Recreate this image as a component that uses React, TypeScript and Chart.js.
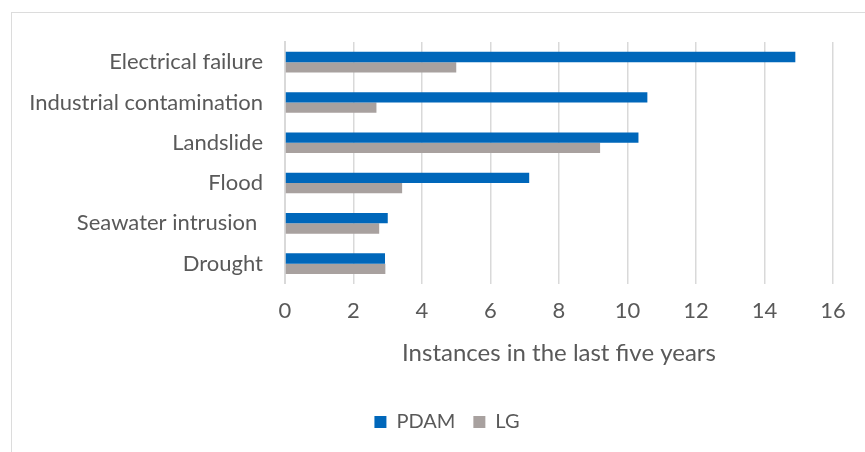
import React, { useEffect, useRef } from "react";
import { Chart, registerables } from "chart.js";

Chart.register(...registerables);

const categories = [
  "Electrical failure",
  "Industrial contamination",
  "Landslide",
  "Flood",
  "Seawater intrusion ",
  "Drought",
];
const pdamValues = [14.9, 10.58, 10.32, 7.13, 3.0, 2.92];
const lgValues = [5.0, 2.67, 9.2, 3.42, 2.75, 2.93];
const seriesNames = ["PDAM", "LG"];
const axisTitle = "Instances in the last five years";

const TEXT = "#595959";
const FONT = "Lato, 'Open Sans', sans-serif";

const legendShift = {
  id: "legendShift",
  afterLayout(chart: any) {
    if (chart.legend) chart.legend.left = 61;
  },
};

export default function App() {
  const ref = useRef<HTMLCanvasElement | null>(null);

  useEffect(() => {
    document.body.style.margin = "0";
    const ctx = ref.current!.getContext("2d")!;
    const chart = new Chart(ctx, {
      type: "bar",
      data: {
        labels: categories,
        datasets: [
          {
            label: seriesNames[0],
            data: pdamValues,
            backgroundColor: "#0067BA",
            borderWidth: 0,
          },
          {
            label: seriesNames[1],
            data: lgValues,
            backgroundColor: "#A8A19F",
            borderWidth: 0,
          },
        ],
      },
      options: {
        indexAxis: "y",
        animation: false,
        responsive: false,
        maintainAspectRatio: false,
        layout: { padding: { top: 42, right: 32, left: 0, bottom: 10 } },
        datasets: { bar: { barPercentage: 1, categoryPercentage: 0.51 } },
        scales: {
          y: {
            afterFit: (s: any) => {
              s.width = 285;
            },
            grid: { display: false, drawTicks: false },
            border: { display: true, color: "#d9d9d9", width: 2 },
            ticks: {
              padding: 22,
              color: TEXT,
              font: { family: FONT, size: 22 },
            },
          },
          x: {
            min: 0,
            max: 16,
            grid: { color: "#d9d9d9", lineWidth: 1.5, drawTicks: false },
            border: { display: false },
            ticks: {
              stepSize: 2,
              padding: 14,
              color: TEXT,
              font: { family: FONT, size: 22 },
            },
            title: {
              display: true,
              text: axisTitle,
              color: TEXT,
              font: { family: FONT, size: 24 },
              padding: { top: 1, bottom: 26 },
            },
          },
        },
        plugins: {
          tooltip: { enabled: false },
          legend: {
            position: "bottom",
            labels: {
              boxWidth: 12,
              boxHeight: 12,
              padding: 18,
              color: TEXT,
              font: { family: FONT, size: 20 },
            },
          },
        },
      },
      plugins: [legendShift],
    });
    return () => chart.destroy();
  }, []);

  return (
    <div style={{ position: "fixed", left: 0, top: 0, width: 865, height: 452, background: "#fff", overflow: "hidden" }}>
      <div
        style={{
          position: "absolute",
          left: 11,
          top: 12,
          width: 900,
          height: 500,
          borderLeft: "1px solid #dcdcdc",
          borderTop: "1px solid #dcdcdc",
        }}
      />
      <canvas ref={ref} width={865} height={452} style={{ position: "absolute", left: 0, top: 0 }} />
    </div>
  );
}
